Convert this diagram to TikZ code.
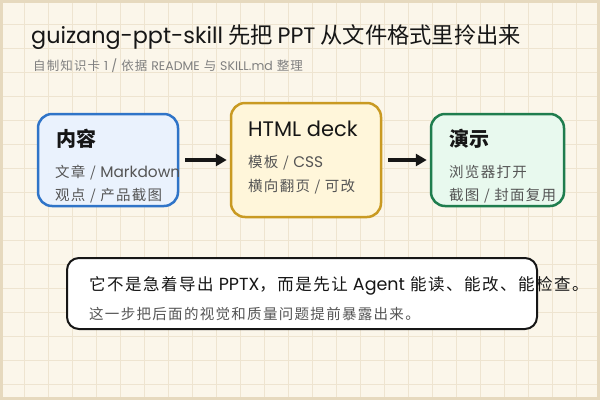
\documentclass[tikz,border=0pt]{standalone}
\usepackage{fontspec}
\setmainfont{Noto Sans CJK SC}
\newfontfamily\cjkbody{Noto Sans CJK SC}[LetterSpace=9]
\newfontfamily\latfont{Poppins}
\newfontfamily\latbody{Poppins}[Scale=1.06]
\newcommand\lt[1]{{\latfont #1}}
\newcommand\lb[1]{{\latbody #1}}
\newcommand\fs[1]{\fontsize{#1}{#1}\selectfont}
\usetikzlibrary{arrows.meta}
\definecolor{paper}{HTML}{FBF6EA}
\definecolor{gridline}{HTML}{EEE4D0}
\definecolor{frameline}{HTML}{E6D9BE}
\definecolor{ink}{HTML}{161616}
\definecolor{subink}{HTML}{555555}
\definecolor{lightink}{HTML}{808080}
\definecolor{blueline}{HTML}{2F74C8}
\definecolor{bluefill}{HTML}{EAF2FD}
\definecolor{goldline}{HTML}{C99A22}
\definecolor{goldfill}{HTML}{FFF6DA}
\definecolor{greenline}{HTML}{1F7D4E}
\definecolor{greenfill}{HTML}{E8F9EE}
\begin{document}
\begin{tikzpicture}[x=1pt,y=-1pt,
  txt/.style={inner sep=0pt, anchor=base west},
  card/.style={draw, line width=2.5pt, rounded corners=14pt, inner sep=0pt},
  flow/.style={draw=ink, line width=3.2pt, -{Triangle[length=11pt,width=12pt]}, shorten <=6pt, shorten >=3pt}]
\useasboundingbox (0,0) rectangle (600,400);
\fill[paper] (0,0) rectangle (600,400);
\foreach \i in {24,48,...,576} \draw[gridline, line width=1pt] (\i,0) -- (\i,400);
\foreach \j in {24,48,...,384} \draw[gridline, line width=1pt] (0,\j) -- (600,\j);
\draw[frameline, line width=3pt] (1.5,1.5) rectangle (598.5,398.5);

% title
\node[txt, text=ink] (title) at (31,43) {\fs{22.3}\lt{guizang-ppt-skill} 先把 \lt{PPT} 从文件格式里拎出来};
\node[txt, text=lightink] (subtitle) at (33,70.5) {\cjkbody\fs{12.5}自制知识卡 \lt{1 /} 依据 \lt{README} 与 \lt{SKILL.md} 整理};

% cards
\node[card, draw=blueline, fill=bluefill, minimum width=140pt, minimum height=92pt] (b1) at (108,160) {};
\node[card, draw=goldline, fill=goldfill, minimum width=150pt, minimum height=114pt] (b2) at (306,160) {};
\node[card, draw=greenline, fill=greenfill, minimum width=133pt, minimum height=92pt] (b3) at (497.5,160) {};

\node[txt, text=ink, font=\bfseries] (t1) at (56,146.5) {\fs{20}内容};
\node[txt, text=subink] (t1a) at (55,177.5) {\cjkbody\fs{14.5}文章 / \lb{Markdown}};
\node[txt, text=subink] (t1b) at (55,200.5) {\cjkbody\fs{14.5}观点 / 产品截图};

\node[txt, text=ink] (t2) at (248,136) {\fs{21}\lt{HTML deck}};
\node[txt, text=subink] (t2a) at (248,167) {\cjkbody\fs{14.5}模板 / \lb{CSS}};
\node[txt, text=subink] (t2b) at (248,191.5) {\cjkbody\fs{14.5}横向翻页 / 可改};

\node[txt, text=ink, font=\bfseries] (t3) at (449,146.5) {\fs{20}演示};
\node[txt, text=subink] (t3a) at (449,177.5) {\cjkbody\fs{14.5}浏览器打开};
\node[txt, text=subink] (t3b) at (449,200.5) {\cjkbody\fs{14.5}截图 / 封面复用};

\draw[flow] (b1.east) -- (b2.west);
\draw[flow] (b2.east) -- (b3.west);

% note
\node[draw=ink, line width=2pt, rounded corners=12pt, fill=white, minimum width=470pt, minimum height=71pt, inner sep=0pt] (note) at (302,293.5) {};
\node[txt, text=ink] (n1) at (89,290) {\cjkbody\fs{16.5}它不是急着导出 \lb{PPTX}，而是先让 \lb{Agent} 能读、能改、能检查。};
\node[txt, text=subink] (n2) at (89,319.5) {\cjkbody\fs{14.5}这一步把后面的视觉和质量问题提前暴露出来。};
\end{tikzpicture}
\end{document}
